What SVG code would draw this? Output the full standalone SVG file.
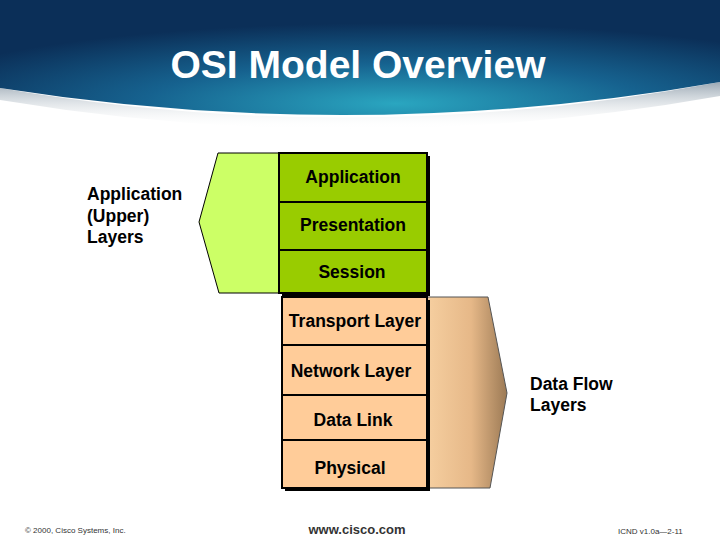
<svg xmlns="http://www.w3.org/2000/svg" width="720" height="540" viewBox="0 0 720 540">
<defs>
<radialGradient id="hdr" cx="0.55" cy="0.9" r="0.7">
<stop offset="0" stop-color="#2aa6c0"/><stop offset="0.5" stop-color="#16628f"/><stop offset="1" stop-color="#0b2f58"/>
</radialGradient>
<linearGradient id="brown" x1="0" y1="0" x2="1" y2="0">
<stop offset="0" stop-color="#f6cfa0"/><stop offset="0.55" stop-color="#e6b888"/><stop offset="1" stop-color="#9c7a55"/>
</linearGradient>
<linearGradient id="shd" x1="0" y1="0" x2="0" y2="1">
<stop offset="0" stop-color="#9aa8b4"/><stop offset="1" stop-color="#ffffff" stop-opacity="0"/>
</linearGradient>
</defs>
<style>
.t{font-family:"Liberation Sans",Arial,sans-serif;font-weight:bold;font-size:17.5px;fill:#000}
.g{fill:#99cc00;stroke:#000;stroke-width:2}
.p{fill:#ffcc99;stroke:#000;stroke-width:2}
.s{fill:#000}
</style>
<rect width="720" height="540" fill="#fff"/>
<path d="M0,88 Q360,150 720,82 L720,96 Q360,160 0,100 Z" fill="url(#shd)"/>
<path d="M0,0 H720 V82 Q360,145 0,88 Z" fill="url(#hdr)"/>
<text x="358" y="78" text-anchor="middle" font-family="Liberation Sans,Arial,sans-serif" font-weight="bold" font-size="39" fill="#fff">OSI Model Overview</text>

<g id="upper-arrow"><polygon points="218,153 280,153 280,293 219,293 199,222" fill="#ccff66" stroke="#000" stroke-width="1"/></g>
<g id="lower-arrow"><polygon points="427,297 488,297 507,393 490,488 427,488" fill="url(#brown)" stroke="#555" stroke-width="1"/></g>

<g id="application"><rect x="282" y="156" width="148" height="49" class="s"/><rect x="279" y="153" width="148" height="49" class="g"/><text x="353" y="183" class="t" text-anchor="middle">Application</text></g>
<g id="presentation"><rect x="282" y="205" width="148" height="48" class="s"/><rect x="279" y="202" width="148" height="48" class="g"/><text x="353" y="231" class="t" text-anchor="middle">Presentation</text></g>
<g id="session"><rect x="282" y="253" width="148" height="43" class="s"/><rect x="279" y="250" width="148" height="43" class="g"/><text x="352" y="278" class="t" text-anchor="middle">Session</text></g>
<g id="transport"><rect x="285" y="300" width="145" height="48" class="s"/><rect x="282" y="297" width="145" height="48" class="p"/><text x="355" y="327" class="t" text-anchor="middle">Transport Layer</text></g>
<g id="network"><rect x="285" y="348" width="145" height="50" class="s"/><rect x="282" y="345" width="145" height="50" class="p"/><text x="351" y="377" class="t" text-anchor="middle">Network Layer</text></g>
<g id="datalink"><rect x="285" y="398" width="145" height="45" class="s"/><rect x="282" y="395" width="145" height="45" class="p"/><text x="353" y="426" class="t" text-anchor="middle">Data Link</text></g>
<g id="physical"><rect x="285" y="443" width="145" height="48" class="s"/><rect x="282" y="440" width="145" height="48" class="p"/><text x="350" y="474" class="t" text-anchor="middle">Physical</text></g>

<g id="upper-label"><text class="t" x="87" y="200">Application</text><text class="t" x="87" y="222">(Upper)</text><text class="t" x="87" y="243">Layers</text></g>
<g id="flow-label"><text class="t" x="530" y="390">Data Flow</text><text class="t" x="530" y="411">Layers</text></g>
<g id="connectors"/>
<text x="25" y="533" font-family="Liberation Sans,Arial,sans-serif" font-size="8" fill="#333">© 2000, Cisco Systems, Inc.</text>
<text x="357" y="534" text-anchor="middle" font-family="Liberation Sans,Arial,sans-serif" font-weight="bold" font-size="13" fill="#333">www.cisco.com</text>
<text x="618" y="534" font-family="Liberation Sans,Arial,sans-serif" font-size="8" fill="#333">ICND v1.0a—2-11</text>
</svg>
